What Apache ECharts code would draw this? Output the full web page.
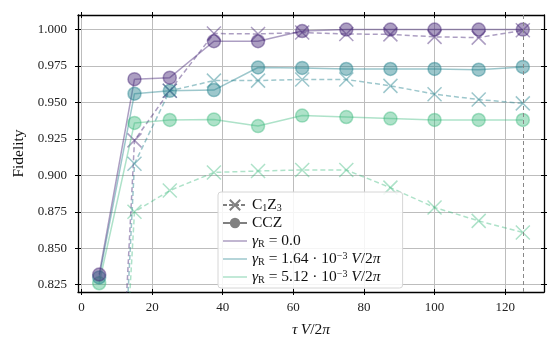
<!DOCTYPE html>
<html>
<head>
<meta charset="utf-8">
<script src="https://cdn.jsdelivr.net/npm/echarts@6/dist/echarts.min.js"></script>
<style>
html, body { margin: 0; padding: 0; background: #fff; }
#chart { width: 559px; height: 350px; }
</style>
</head>
<body>
<div id="chart"></div>
<script>
// gate duration tau V / 2pi
var tau = [5, 15, 25, 37.5, 50, 62.5, 75, 87.5, 100, 112.5, 125];

// CCZ (solid, circles)
var cczG0 = [0.832, 0.966, 0.967, 0.992, 0.992, 0.999, 1.000, 1.000, 1.000, 1.000, 1.000];
var cczG1 = [0.830, 0.956, 0.958, 0.9585, 0.974, 0.9737, 0.973, 0.973, 0.973, 0.9725, 0.9744];
var cczG2 = [0.826, 0.936, 0.938, 0.9384, 0.9338, 0.941, 0.940, 0.939, 0.938, 0.938, 0.938];

// C1Z3 (dashed, crosses) - first point sits below the visible range
var c1z3G0 = [0.45, 0.924, 0.958, 0.9973, 0.997, 0.998, 0.997, 0.9967, 0.995, 0.9945, 0.9995];
var c1z3G1 = [0.42, 0.908, 0.958, 0.965, 0.965, 0.9658, 0.9658, 0.9614, 0.9557, 0.952, 0.9494];
var c1z3G2 = [0.45, 0.875, 0.8896, 0.902, 0.903, 0.9037, 0.9037, 0.8916, 0.878, 0.8688, 0.8608];

var xTicks = [0, 20, 40, 60, 80, 100, 120];
var yTicks = [0.825, 0.850, 0.875, 0.900, 0.925, 0.950, 0.975, 1.000];
var tauMark = 125;

var FONT = '"Liberation Serif", "DejaVu Serif", serif';
var cols = ['rgba(72,40,120,0.45)', 'rgba(38,130,142,0.45)', 'rgba(53,183,121,0.4)'];
var CROSS = 'path://M0,0L10,10M10,0L0,10';
var LINE_ICON = 'path://M0,0L24,0L24,1.5L0,1.5Z';

function pairs(ys) {
	return tau.map(function (t, i) { return [t, ys[i]]; });
}

function cczSeries(ys, col, extra) {
	var s = {
		type: 'line', data: pairs(ys), z: 3,
		symbol: 'circle', symbolSize: 13, showAllSymbol: true,
		lineStyle: { color: col, width: 1.5 },
		itemStyle: { color: col, borderColor: col, borderWidth: 1.5 },
		emphasis: { disabled: true }
	};
	if (extra) s.markLine = extra;
	return s;
}

function c1z3Series(ys, col) {
	return {
		type: 'line', data: pairs(ys), z: 2,
		symbol: CROSS, symbolSize: 14, showAllSymbol: true,
		lineStyle: { color: col, width: 1.5, type: [5, 3] },
		itemStyle: { color: 'none', borderColor: col, borderWidth: 1.5 },
		emphasis: { disabled: true }
	};
}

// axis helper: ticks both in and out, like matplotlib "inout"
function xAx(pos, inside, main) {
	return {
		type: 'value', min: -1, max: 131, position: pos,
		axisLine: { show: main, onZero: false, lineStyle: { color: '#000', width: 1.3 } },
		axisTick: { show: true, inside: inside, length: 3, customValues: xTicks, lineStyle: { color: '#000', width: 1 } },
		axisLabel: { show: main && pos === 'bottom', customValues: xTicks, fontFamily: FONT, fontSize: 13, color: '#222', margin: 9 },
		splitLine: { show: main && pos === 'bottom', lineStyle: { color: '#bdbdbd', width: 1 } }
	};
}
function yAx(pos, inside, main) {
	return {
		type: 'value', min: 0.82, max: 1.01, position: pos,
		axisLine: { show: main, onZero: false, lineStyle: { color: '#000', width: 1.3 } },
		axisTick: { show: true, inside: inside, length: 3, customValues: yTicks, lineStyle: { color: '#000', width: 1 } },
		axisLabel: { show: main && pos === 'left', customValues: yTicks, fontFamily: FONT, fontSize: 13, color: '#222', margin: 11,
			formatter: function (v) { return v.toFixed(3); } },
		splitLine: { show: main && pos === 'left', lineStyle: { color: '#bdbdbd', width: 1 } }
	};
}

var xAxes = [xAx('bottom', false, true), xAx('bottom', true, false), xAx('top', true, true), xAx('top', false, false)];
xAxes[0].name = '{m|τ} {m|V}{t|/2}{m|π}';
xAxes[0].nameLocation = 'middle';
xAxes[0].nameGap = 30;
xAxes[0].nameTextStyle = { rich: {
	m: { fontFamily: FONT, fontStyle: 'italic', fontSize: 15.5, color: '#111' },
	t: { fontFamily: FONT, fontSize: 15.5, color: '#111' } } };

var yAxes = [yAx('left', false, true), yAx('left', true, false), yAx('right', true, true), yAx('right', false, false)];
yAxes[0].name = 'Fidelity';
yAxes[0].nameLocation = 'middle';
yAxes[0].nameGap = 50;
yAxes[0].nameTextStyle = { fontFamily: FONT, fontSize: 15.5, color: '#111' };

var legendItems = [
	{ name: 'C1Z3' },
	{ name: 'CCZ' },
	{ name: 'g0', icon: LINE_ICON },
	{ name: 'g1', icon: LINE_ICON },
	{ name: 'g2', icon: LINE_ICON }
];
var legendText = {
	C1Z3: '{t|C}{s|1}{t|Z}{s|3}',
	CCZ: '{t|CCZ}',
	g0: '{m|γ}{s|R}{t| = 0.0}',
	g1: '{m|γ}{s|R}{t| = 1.64 · 10}{p|−3}{t| }{m|V}{t|/2}{m|π}',
	g2: '{m|γ}{s|R}{t| = 5.12 · 10}{p|−3}{t| }{m|V}{t|/2}{m|π}'
};

var legendSeries = [
	{ name: 'C1Z3', type: 'line', data: [], symbol: CROSS, symbolSize: 10,
		lineStyle: { color: '#808080', width: 1.5, type: [4, 2] },
		itemStyle: { color: 'none', borderColor: '#808080', borderWidth: 1.5 } },
	{ name: 'CCZ', type: 'line', data: [], symbol: 'circle', symbolSize: 11,
		lineStyle: { color: '#808080', width: 1.5 },
		itemStyle: { color: '#808080' } },
	{ name: 'g0', type: 'line', data: [], symbol: 'none', lineStyle: { color: cols[0], width: 1.5 }, itemStyle: { color: cols[0] } },
	{ name: 'g1', type: 'line', data: [], symbol: 'none', lineStyle: { color: cols[1], width: 1.5 }, itemStyle: { color: cols[1] } },
	{ name: 'g2', type: 'line', data: [], symbol: 'none', lineStyle: { color: cols[2], width: 1.5 }, itemStyle: { color: cols[2] } }
];

var markTau = {
	silent: true, symbol: 'none', label: { show: false },
	lineStyle: { color: '#888', width: 1, type: [4, 3] },
	data: [{ xAxis: tauMark }]
};

var chart = echarts.init(document.getElementById('chart'));
chart.setOption({
	animation: false,
	backgroundColor: '#fff',
	grid: { left: 78, right: 15, top: 15, bottom: 58 },
	xAxis: xAxes,
	yAxis: yAxes,
	legend: {
		data: legendItems, orient: 'vertical', left: 218, top: 192,
		itemWidth: 24, itemHeight: 13, itemGap: 2,
		padding: [5, 22, 3, 4],
		backgroundColor: 'rgba(255,255,255,0.85)', borderColor: '#d6d6d6', borderWidth: 1, borderRadius: 3,
		selectedMode: false,
		formatter: function (n) { return legendText[n]; },
		textStyle: { rich: {
			t: { fontFamily: FONT, fontSize: 15.5, color: '#111', lineHeight: 16 },
			m: { fontFamily: FONT, fontStyle: 'italic', fontSize: 15.5, color: '#111', lineHeight: 16 },
			s: { fontFamily: FONT, fontSize: 10, color: '#111', lineHeight: 9, verticalAlign: 'bottom' },
			p: { fontFamily: FONT, fontSize: 10, color: '#111', lineHeight: 9, verticalAlign: 'top' }
		} }
	},
	series: legendSeries.concat([
		c1z3Series(c1z3G2, cols[2]),
		c1z3Series(c1z3G1, cols[1]),
		c1z3Series(c1z3G0, cols[0]),
		cczSeries(cczG2, cols[2], markTau),
		cczSeries(cczG1, cols[1]),
		cczSeries(cczG0, cols[0])
	])
});
</script>
</body>
</html>
